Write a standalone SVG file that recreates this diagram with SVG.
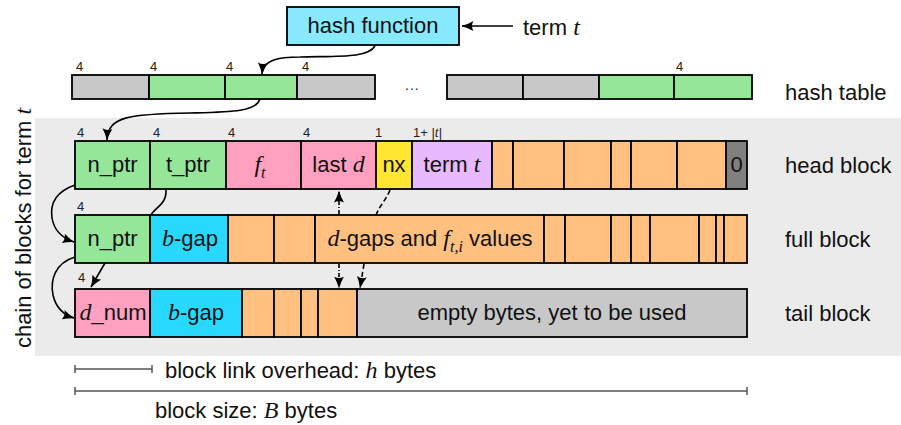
<svg xmlns="http://www.w3.org/2000/svg" width="901" height="425" viewBox="0 0 901 425">
<defs>
<style>
.c{stroke:#000;stroke-width:1.8}
.gray{fill:#c8c8c8}
.green{fill:#96e69a}
.pink{fill:#ffa0c0}
.yellow{fill:#ffe630}
.lilac{fill:#e9b9ff}
.orange{fill:#ffc080}
.cyan{fill:#28d8ff}
.dark{fill:#808080}
.hf{fill:#88e9ff}
.t{font-family:"Liberation Sans",Arial,sans-serif;font-size:22px;fill:#111}
.m{font-family:"Liberation Serif","Times New Roman",serif;font-style:italic;font-size:24px}
.sub{font-size:16px}
.n{font-family:"Liberation Sans",Arial,sans-serif;font-size:13px;fill:#222}
.n .m{font-size:14px}
.mid{text-anchor:middle}
.ln{fill:none;stroke:#000;stroke-width:1.6}
.dd{stroke-dasharray:4 2 1 2}
.ds{stroke-dasharray:5 3}
.br{fill:none;stroke:#555;stroke-width:1.5}
</style>
<marker id="ah" viewBox="0 0 12 10" refX="11.5" refY="5" markerWidth="12" markerHeight="10" markerUnits="userSpaceOnUse" orient="auto">
<path d="M0,0 Q5,3 12,5 Q5,7 0,10 Q3,5 0,0 Z" fill="#000"/>
</marker>
</defs>

<rect x="35" y="118" width="866" height="238" fill="#ebebeb"/>

<g id="hash-function">
<rect x="287" y="7" width="172" height="38" class="c hf"/>
<text x="373" y="33" class="t mid">hash function</text>
</g>

<g id="term-input">
<text x="523" y="35" class="t">term <tspan class="m">t</tspan></text>
</g>

<g id="hash-table">
<rect x="72" y="75" width="77" height="24" class="c gray"/>
<rect x="149" y="75" width="76" height="24" class="c green"/>
<rect x="225" y="75" width="72" height="24" class="c green"/>
<rect x="297" y="75" width="78" height="24" class="c gray"/>
<text x="405" y="90" class="n" style="font-size:14px;letter-spacing:1px">...</text>
<rect x="447" y="75" width="76" height="24" class="c gray"/>
<rect x="523" y="75" width="76" height="24" class="c gray"/>
<rect x="599" y="75" width="75" height="24" class="c green"/>
<rect x="674" y="75" width="78" height="24" class="c green"/>
<text x="76" y="71" class="n">4</text>
<text x="150" y="71" class="n">4</text>
<text x="226" y="71" class="n">4</text>
<text x="302" y="71" class="n">4</text>
<text x="676" y="71" class="n">4</text>
<text x="785" y="100" class="t">hash table</text>
</g>

<g id="chain-label">
<text transform="translate(31,228) rotate(-90)" class="t mid">chain of blocks for term <tspan class="m">t</tspan></text>
</g>

<g id="head-block">
<rect x="75" y="141" width="75" height="48" class="c green"/>
<rect x="150" y="141" width="76" height="48" class="c green"/>
<rect x="226" y="141" width="75" height="48" class="c pink"/>
<rect x="301" y="141" width="75" height="48" class="c pink"/>
<rect x="376" y="141" width="36" height="48" class="c yellow"/>
<rect x="412" y="141" width="80" height="48" class="c lilac"/>
<rect x="492" y="141" width="21" height="48" class="c orange"/>
<rect x="513" y="141" width="51" height="48" class="c orange"/>
<rect x="564" y="141" width="47" height="48" class="c orange"/>
<rect x="611" y="141" width="20" height="48" class="c orange"/>
<rect x="631" y="141" width="46" height="48" class="c orange"/>
<rect x="677" y="141" width="49" height="48" class="c orange"/>
<rect x="726" y="141" width="21" height="48" class="c dark"/>
<text x="77" y="137" class="n">4</text>
<text x="153" y="137" class="n">4</text>
<text x="228" y="137" class="n">4</text>
<text x="303" y="137" class="n">4</text>
<text x="375" y="137" class="n">1</text>
<text x="413" y="137" class="n">1+ |<tspan class="m">t</tspan>|</text>
<text x="260" y="172" class="t mid"><tspan class="m">f</tspan><tspan class="m sub" dy="6">t</tspan></text>
<text x="112.5" y="172" class="t mid">n_ptr</text>
<text x="188" y="172" class="t mid">t_ptr</text>
<text x="338.5" y="172" class="t mid">last <tspan class="m">d</tspan></text>
<text x="394" y="172" class="t mid">nx</text>
<text x="452" y="172" class="t mid">term <tspan class="m">t</tspan></text>
<text x="736.5" y="172" class="t mid">0</text>
<text x="785" y="173" class="t">head block</text>
</g>

<g id="full-block">
<rect x="75" y="215" width="75" height="48" class="c green"/>
<rect x="150" y="215" width="78" height="48" class="c cyan"/>
<rect x="228" y="215" width="46" height="48" class="c orange"/>
<rect x="274" y="215" width="41" height="48" class="c orange"/>
<rect x="315" y="215" width="229" height="48" class="c orange"/>
<rect x="544" y="215" width="21" height="48" class="c orange"/>
<rect x="565" y="215" width="46" height="48" class="c orange"/>
<rect x="611" y="215" width="20" height="48" class="c orange"/>
<rect x="631" y="215" width="19" height="48" class="c orange"/>
<rect x="650" y="215" width="49" height="48" class="c orange"/>
<rect x="699" y="215" width="17" height="48" class="c orange"/>
<rect x="716" y="215" width="8" height="48" class="c orange"/>
<rect x="724" y="215" width="23" height="48" class="c orange"/>
<text x="77" y="211" class="n">4</text>
<text x="112.5" y="246" class="t mid">n_ptr</text>
<text x="190" y="246" class="t mid"><tspan class="m">b</tspan>-gap</text>
<text x="430" y="246" class="t mid"><tspan class="m">d</tspan>-gaps and  <tspan class="m">f</tspan><tspan class="m sub" dy="6">t,i</tspan><tspan dy="-6"> values</tspan></text>
<text x="785" y="247" class="t">full block</text>
</g>

<g id="tail-block">
<rect x="75" y="289" width="75" height="48" class="c pink"/>
<rect x="150" y="289" width="92" height="48" class="c cyan"/>
<rect x="242" y="289" width="32" height="48" class="c orange"/>
<rect x="274" y="289" width="27" height="48" class="c orange"/>
<rect x="301" y="289" width="17" height="48" class="c orange"/>
<rect x="318" y="289" width="39" height="48" class="c orange"/>
<rect x="357" y="289" width="390" height="48" class="c gray"/>
<text x="78" y="282" class="n">4</text>
<text x="113" y="320" class="t mid"><tspan class="m">d</tspan>_num</text>
<text x="196" y="320" class="t mid"><tspan class="m">b</tspan>-gap</text>
<text x="552" y="320" class="t mid">empty bytes, yet to be used</text>
<text x="785" y="321" class="t">tail block</text>
</g>

<g id="connectors">
<line x1="513" y1="26" x2="462" y2="26" class="ln" marker-end="url(#ah)"/>
<path d="M375,46 C368,58 340,56 300,57 C278,57 263,60 262,74" class="ln" marker-end="url(#ah)"/>
<path d="M260,99 C256,112 230,112 190,113 C130,114 108,116 107,140" class="ln" marker-end="url(#ah)"/>
<path d="M75,185 C55,192 50,205 52,218 C54,230 62,238 74,242" class="ln" marker-end="url(#ah)"/>
<path d="M75,257 C55,263 50,280 53,295 C56,308 64,315 74,318" class="ln" marker-end="url(#ah)"/>
<path d="M166,189 C167,205 155,207 151,215" class="ln"/>
<line x1="105" y1="263" x2="91" y2="287" class="ln" marker-end="url(#ah)"/>
<line x1="339" y1="214" x2="339" y2="191" class="ln dd" marker-end="url(#ah)"/>
<path d="M390,190 C386,200 380,205 376,215" class="ln ds"/>
<line x1="339" y1="264" x2="339" y2="288" class="ln dd" marker-end="url(#ah)"/>
<line x1="364" y1="264" x2="360" y2="288" class="ln ds" marker-end="url(#ah)"/>
</g>

<g id="measures">
<path d="M75,369 H152 M75,365 V373 M152,365 V373" class="br"/>
<text x="165" y="378" class="t">block link overhead: <tspan class="m">h</tspan> bytes</text>
<path d="M75,391 H747 M75,387 V395 M747,387 V395" class="br"/>
<text x="155" y="418" class="t">block size: <tspan class="m">B</tspan> bytes</text>
</g>
</svg>
